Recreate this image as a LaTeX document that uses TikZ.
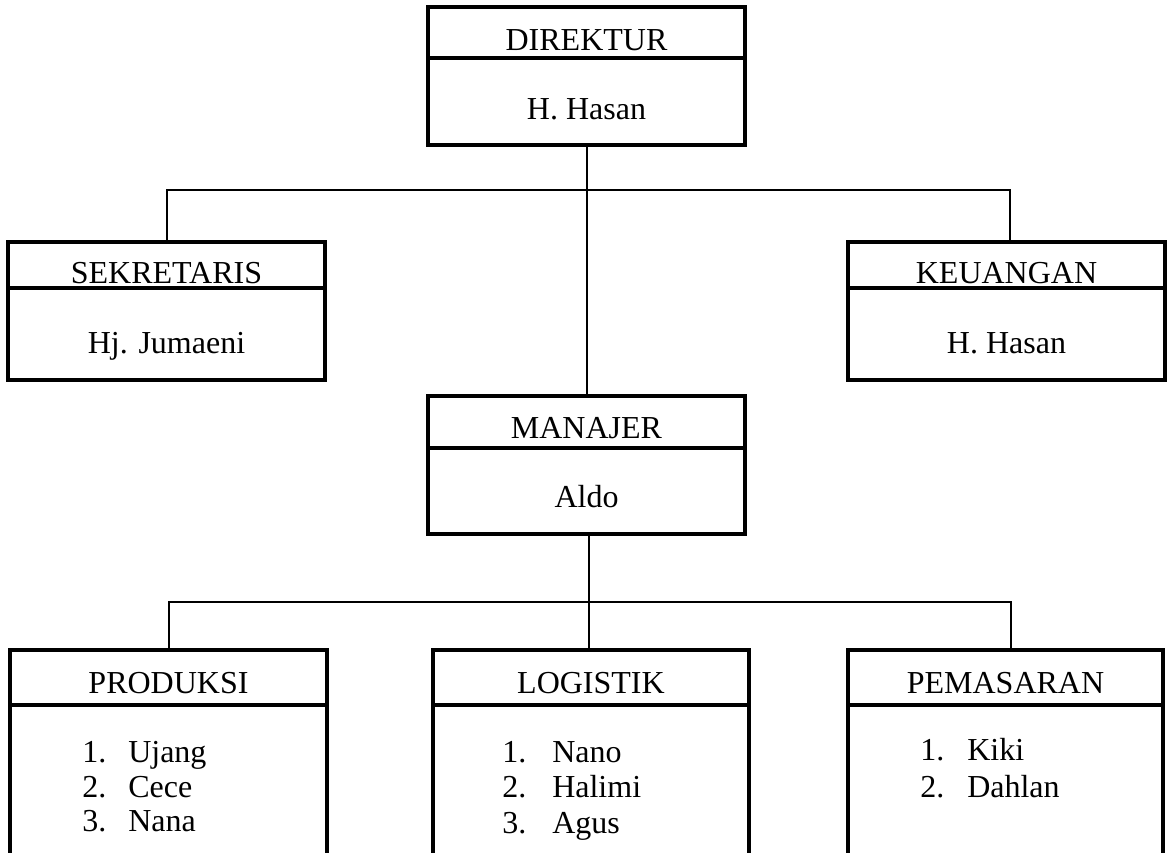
\documentclass[tikz,border=0pt]{standalone}
\usepackage{fontspec}
\setmainfont{Liberation Serif}
\begin{document}
\begin{tikzpicture}[x=0.75pt,y=-0.75pt,
  unitbox/.style={draw, line width=2.4pt, minimum width=317*0.75pt, inner sep=0pt, outer sep=0pt},
  divline/.style={line width=2.4pt},
  conn/.style={line width=1.1pt},
  lbl/.style={anchor=base, inner sep=0pt, font=\fontsize{24}{30}\selectfont},
  item/.style={anchor=base west, inner sep=0pt, font=\fontsize{24}{30}\selectfont}]
\useasboundingbox (0,0) rectangle (1171,853);
\begin{scope}
\clip (0,0) rectangle (1171,853);
% boxes
\node[unitbox, minimum height=138*0.75pt] (dir) at (586.5,76) {};
\node[unitbox, minimum height=138*0.75pt] (sek) at (166.5,311) {};
\node[unitbox, minimum height=138*0.75pt] (keu) at (1006.5,311) {};
\node[unitbox, minimum height=138*0.75pt] (man) at (586.5,465) {};
\node[unitbox, minimum height=240*0.75pt] (pro) at (168.5,770) {};
\node[unitbox, minimum height=240*0.75pt, minimum width=316*0.75pt] (log) at (591,770) {};
\node[unitbox, minimum height=240*0.75pt, minimum width=315*0.75pt] (pem) at (1005.5,770) {};
% dividers
\draw[divline] (dir.west |- 0,58) -- (dir.east |- 0,58);
\draw[divline] (sek.west |- 0,288) -- (sek.east |- 0,288);
\draw[divline] (keu.west |- 0,288) -- (keu.east |- 0,288);
\draw[divline] (man.west |- 0,448) -- (man.east |- 0,448);
\draw[divline] (pro.west |- 0,705) -- (pro.east |- 0,705);
\draw[divline] (log.west |- 0,705) -- (log.east |- 0,705);
\draw[divline] (pem.west |- 0,705) -- (pem.east |- 0,705);
% texts
\node[lbl] (dirT) at (586.5,50) {DIREKTUR};
\node[lbl] (dirN) at (586.5,119) {H. Hasan};
\node[lbl] (sekT) at (166.5,283) {SEKRETARIS};
\node[lbl] (sekN) at (166.5,353) {Hj. Jumaeni};
\node[lbl] (keuT) at (1006.5,283) {KEUANGAN};
\node[lbl] (keuN) at (1006.5,353) {H. Hasan};
\node[lbl] (manT) at (586.5,438) {MANAJER};
\node[lbl] (manN) at (586.5,507) {Aldo};
\node[lbl] (proT) at (168.5,693) {PRODUKSI};
\node[lbl] (logT) at (591,693) {LOGISTIK};
\node[lbl] (pemT) at (1005.5,693) {PEMASARAN};
% lists
\node[item] (p1n) at (82,762) {1.};  \node[item] (p1) at (128,762) {Ujang};
\node[item] (p2n) at (82,797) {2.};  \node[item] (p2) at (128,797) {Cece};
\node[item] (p3n) at (82,831) {3.};  \node[item] (p3) at (128,831) {Nana};
\node[item] (l1n) at (502,762) {1.}; \node[item] (l1) at (552,762) {Nano};
\node[item] (l2n) at (502,797) {2.}; \node[item] (l2) at (552,797) {Halimi};
\node[item] (l3n) at (502,833) {3.}; \node[item] (l3) at (552,833) {Agus};
\node[item] (m1n) at (920,760) {1.}; \node[item] (m1) at (967,760) {Kiki};
\node[item] (m2n) at (920,797) {2.}; \node[item] (m2) at (967,797) {Dahlan};
% connectors
\coordinate (busA) at (587,190);
\coordinate (busB) at (589,602);
\coordinate (sekC) at (167,242);
\coordinate (keuC) at (1010,242);
\coordinate (proC) at (169,650);
\coordinate (logC) at (589,650);
\coordinate (pemC) at (1011,650);
\coordinate (dirC) at (587,145);
\coordinate (manC) at (587,396);
\coordinate (manD) at (589,534);
\draw[conn] (dirC) -- (manC);
\draw[conn] (sekC) -- (sekC |- busA) -- (keuC |- busA) -- (keuC);
\draw[conn] (manD) -- (logC);
\draw[conn] (proC) -- (proC |- busB) -- (pemC |- busB) -- (pemC);
\end{scope}
\end{tikzpicture}
\end{document}
